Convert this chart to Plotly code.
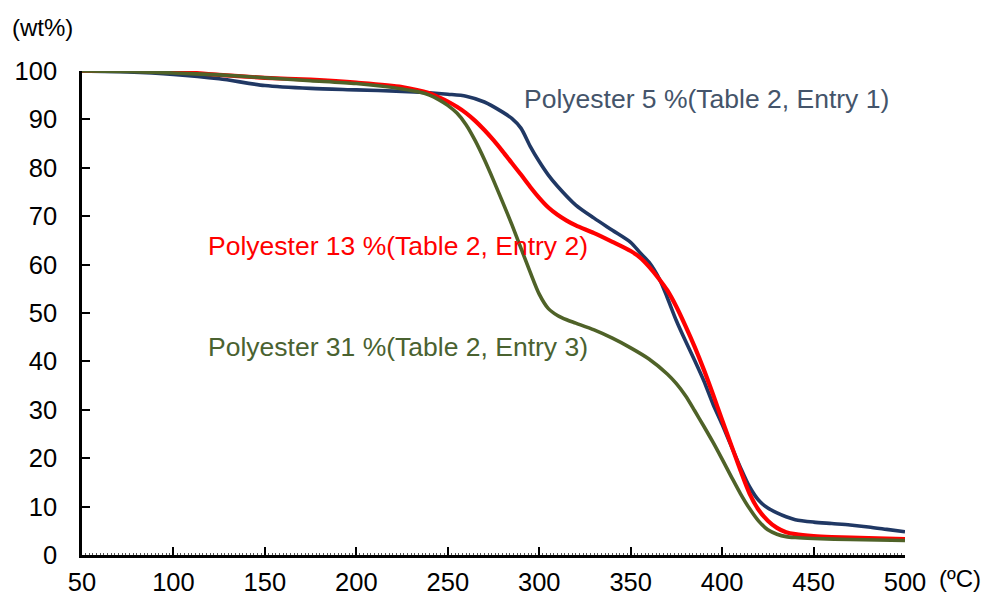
import plotly.graph_objects as go

# Thermogravimetric curves: residual weight (wt%) vs temperature (°C)
temp_5 = [50, 75, 100, 125, 150, 175, 200, 225, 240, 250, 260, 270, 280, 285, 290, 295, 300, 305, 310,
          320, 330, 340, 350, 355, 360, 366, 370, 375, 380, 385, 390, 395, 400, 405, 410, 415, 420, 425,
          430, 435, 440, 450, 460, 470, 480, 490, 500]
wt_5 = [100, 99.8, 99.3, 98.4, 97.0, 96.4, 96.1, 95.8, 95.5, 95.2, 94.8, 93.6, 91.5, 90.2, 88.2, 84.5,
        81.3, 78.5, 76.2, 72.3, 69.6, 67.1, 64.6, 62.5, 60.5, 56.8, 53.2, 48.4, 44.2, 40.2, 36.0, 31.2,
        27.0, 22.5, 18.1, 14.1, 11.3, 9.7, 8.7, 7.9, 7.3, 6.8, 6.5, 6.2, 5.8, 5.3, 4.8]

temp_13 = [50, 75, 100, 125, 150, 175, 200, 225, 240, 245, 250, 255, 260, 265, 270, 275, 280, 285, 290,
           295, 300, 305, 310, 315, 320, 330, 340, 350, 355, 360, 365, 370, 375, 380, 385, 390, 395, 400,
           405, 410, 415, 420, 425, 430, 435, 440, 450, 460, 480, 500]
wt_13 = [100, 100, 99.9, 99.2, 98.6, 98.2, 97.6, 96.7, 95.4, 94.6, 93.7, 92.6, 91.3, 89.7, 87.8, 85.7,
         83.4, 81.0, 78.6, 76.1, 73.8, 71.8, 70.3, 69.1, 68.1, 66.5, 64.7, 62.8, 61.5, 59.6, 57.3, 54.7,
         51.3, 47.3, 43.0, 38.3, 33.2, 27.9, 22.7, 17.5, 12.7, 9.3, 7.1, 5.6, 4.7, 4.3, 3.9, 3.7, 3.5, 3.3]

temp_31 = [50, 75, 100, 125, 150, 175, 200, 225, 235, 240, 245, 250, 255, 260, 265, 270, 275, 280, 285,
           290, 295, 300, 305, 310, 315, 320, 330, 340, 350, 360, 370, 375, 380, 385, 390, 395, 400, 405,
           410, 415, 420, 425, 430, 435, 440, 450, 470, 500]
wt_31 = [100, 99.9, 99.6, 99.2, 98.6, 98.0, 97.4, 96.3, 95.6, 95.0, 94.1, 92.9, 91.3, 88.9, 85.6, 81.7,
         77.4, 72.9, 68.3, 63.4, 58.5, 53.9, 50.9, 49.5, 48.6, 47.9, 46.5, 44.8, 42.8, 40.5, 37.4, 35.4,
         32.9, 29.8, 26.6, 23.3, 19.8, 16.2, 12.7, 9.6, 7.0, 5.2, 4.3, 3.8, 3.6, 3.4, 3.2, 3.0]

labels = ["Polyester 5 %(Table 2, Entry 1)",
          "Polyester 13 %(Table 2, Entry 2)",
          "Polyester 31 %(Table 2, Entry 3)"]
line_colors = ["#203864", "#FF0000", "#4F6228"]
text_colors = ["#44546A", "#FF0000", "#4A6230"]
label_pos = [(290.5, 94.2), (118, 63.8), (118, 43.0)]

x_ticks = [50, 100, 150, 200, 250, 300, 350, 400, 450, 500]
y_ticks = [0, 10, 20, 30, 40, 50, 60, 70, 80, 90, 100]

FONT = "Liberation Sans, Arial, sans-serif"

fig = go.Figure()
series = [(temp_5, wt_5), (temp_13, wt_13), (temp_31, wt_31)]
widths = [3.6, 4.2, 3.6]
for (xs, ys), name, col, w in zip(series, labels, line_colors, widths):
    fig.add_trace(go.Scatter(x=xs, y=ys, mode="lines", name=name,
                             line=dict(color=col, width=w, shape="spline", smoothing=0.8)))

for (lx, ly), txt, col in zip(label_pos, labels, text_colors):
    fig.add_annotation(x=lx, y=ly, text=txt, showarrow=False, xanchor="left", yanchor="middle",
                       font=dict(family=FONT, size=26.5, color=col))

fig.add_annotation(xref="paper", yref="paper", x=-0.088, y=1.0, yshift=44, text="(wt%)",
                   showarrow=False, xanchor="left", yanchor="middle",
                   font=dict(family=FONT, size=24, color="black"))
fig.add_annotation(xref="paper", yref="paper", x=1.0, y=0.0, xshift=32, yshift=-23, text="(ºC)",
                   showarrow=False, xanchor="left", yanchor="middle",
                   font=dict(family=FONT, size=24, color="black"))

fig.update_layout(
    width=989, height=601,
    margin=dict(l=82, r=84, t=71, b=46),
    paper_bgcolor="white", plot_bgcolor="white",
    showlegend=False,
    font=dict(family=FONT, size=25, color="black"),
    xaxis=dict(range=[50, 500], tickvals=x_ticks, showgrid=False, zeroline=False,
               showline=True, linecolor="black", linewidth=2.5, automargin=False,
               ticks="inside", ticklen=8, tickwidth=1.5, tickcolor="black",
               ticklabelstandoff=3, tickfont=dict(size=25.5),
               minor=dict(ticks="inside", ticklen=2, tickwidth=1, dtick=2, tickcolor="#555")),
    yaxis=dict(range=[0, 100], tickvals=y_ticks, showgrid=False, zeroline=False,
               showline=True, linecolor="black", linewidth=2.5, automargin=False,
               ticks="inside", ticklen=8, tickwidth=1.5, tickcolor="black",
               ticklabelstandoff=17, tickfont=dict(size=25.5)),
)

fig.write_html("out.html")
